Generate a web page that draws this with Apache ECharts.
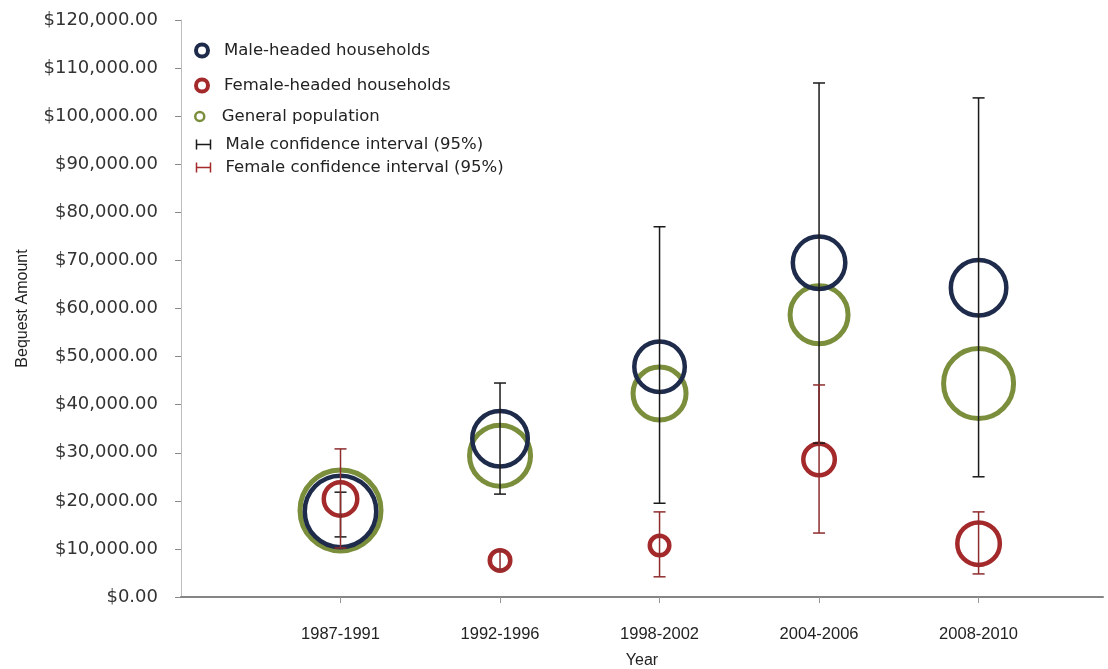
<!DOCTYPE html>
<html>
<head>
<meta charset="utf-8">
<script src="https://cdn.jsdelivr.net/npm/echarts@6/dist/echarts.min.js"></script>
<style>
  html, body { margin: 0; padding: 0; background: #fff; }
  #main { width: 1108px; height: 669px; }
</style>
</head>
<body>
<div id="main"></div>
<script>
var periods = ['1987-1991', '1992-1996', '1998-2002', '2004-2006', '2008-2010'];

// mean bequest per group
var maleMean = [17800, 32900, 47900, 69500, 64300];
var femaleMean = [20400, 7600, 10700, 28600, 11100];
var generalMean = [18000, 29400, 42300, 58700, 44400];

// bubble weights (relative sample size)
var maleBubble = [76, 60, 55, 57, 60];
var femaleBubble = [38, 25, 24, 36, 47];
var generalBubble = [86, 66, 58, 63, 75];

// 95% confidence intervals [low, high]
var maleLow = [12500, 21400, 19500, 32000, 25000];
var maleHigh = [21800, 44500, 77000, 106900, 103800];
var femaleLow = [10200, 5600, 4200, 13300, 4800];
var femaleHigh = [30800, 9600, 17700, 44100, 17700];

var yTicks = [0, 120000, 10000];

var NAVY = '#1e2b4b';
var RED = '#a3292b';
var GREEN = '#7a8e3c';

function bubbles(mean, size) {
  return mean.map(function (v, i) { return [i + 1, v, size[i]]; });
}
function intervals(lo, hi) {
  return lo.map(function (v, i) { return [i + 1, v, hi[i]]; });
}

function errorBar(color) {
  return function (params, api) {
    var x = api.value(0);
    var top = api.coord([x, api.value(2)]);
    var bot = api.coord([x, api.value(1)]);
    var w = 6;
    var style = { stroke: color, lineWidth: 1.5 };
    return {
      type: 'group',
      children: [
        { type: 'line', shape: { x1: top[0], y1: top[1], x2: bot[0], y2: bot[1] }, style: style },
        { type: 'line', shape: { x1: top[0] - w, y1: top[1], x2: top[0] + w, y2: top[1] }, style: style },
        { type: 'line', shape: { x1: bot[0] - w, y1: bot[1], x2: bot[0] + w, y2: bot[1] }, style: style }
      ]
    };
  };
}

function ring(border) {
  return function (val) { return val[2] - border; };
}

var legendText = { fontFamily: 'DejaVu Sans', fontSize: 16.5, color: '#222', padding: [0, 0, 0, 3] };
var hIcon = 'path://M0,0L0,10M0,5L14,5M14,0L14,10';

var chart = echarts.init(document.getElementById('main'));
var option = {
  animation: false,
  backgroundColor: '#fff',
  grid: { left: 181, top: 20, right: 5, bottom: 72, containLabel: false, outerBoundsMode: 'none' },
  legend: [
    { left: 189, top: 37, itemWidth: 28, itemHeight: 12, textStyle: legendText,
      data: [{ name: 'Male-headed households', icon: 'circle', itemStyle: { color: '#fff', borderColor: NAVY, borderWidth: 4 } }] },
    { left: 189, top: 72, itemWidth: 28, itemHeight: 12, textStyle: legendText,
      data: [{ name: 'Female-headed households', icon: 'circle', itemStyle: { color: '#fff', borderColor: RED, borderWidth: 4 } }] },
    { left: 189, top: 103, itemWidth: 28, itemHeight: 9, textStyle: legendText,
      data: [{ name: 'General population', icon: 'circle', itemStyle: { color: '#fff', borderColor: GREEN, borderWidth: 2.5 } }] },
    { left: 189, top: 131, itemWidth: 28, itemHeight: 10, textStyle: legendText,
      data: [{ name: 'Male confidence interval (95%)', icon: hIcon, itemStyle: { color: 'none', borderColor: '#1a1a1a', borderWidth: 1.5 } }] },
    { left: 189, top: 154, itemWidth: 28, itemHeight: 10, textStyle: legendText,
      data: [{ name: 'Female confidence interval (95%)', icon: hIcon, itemStyle: { color: 'none', borderColor: RED, borderWidth: 1.5 } }] }
  ],
  xAxis: {
    type: 'value',
    min: 0,
    max: 5.78,
    name: 'Year',
    nameLocation: 'middle',
    nameGap: 56,
    nameTextStyle: { fontFamily: 'Liberation Sans', fontSize: 16, color: '#222' },
    splitLine: { show: false },
    axisLine: { lineStyle: { color: '#858585', width: 2 } },
    axisTick: { customValues: [1, 2, 3, 4, 5], length: 6, lineStyle: { color: '#999' } },
    axisLabel: {
      customValues: [1, 2, 3, 4, 5],
      margin: 29,
      fontFamily: 'Liberation Sans',
      fontSize: 16.5,
      color: '#222',
      formatter: function (v) { return periods[Math.round(v) - 1] || ''; }
    }
  },
  yAxis: {
    type: 'value',
    min: yTicks[0],
    max: yTicks[1],
    interval: yTicks[2],
    name: 'Bequest Amount',
    nameLocation: 'middle',
    nameGap: 150,
    nameTextStyle: { fontFamily: 'Liberation Sans', fontSize: 16, color: '#222' },
    splitLine: { show: false },
    axisLine: { show: true, lineStyle: { color: '#bdbdbd', width: 1 } },
    axisTick: { show: true, length: 6, lineStyle: { color: '#888' } },
    axisLabel: {
      margin: 23,
      fontFamily: 'DejaVu Sans',
      fontSize: 18,
      color: '#333',
      formatter: function (v) {
        return '$' + v.toLocaleString('en-US', { minimumFractionDigits: 2, maximumFractionDigits: 2 });
      }
    }
  },
  series: [
    {
      name: 'General population',
      type: 'scatter',
      symbol: 'circle',
      symbolSize: ring(5),
      itemStyle: { color: 'rgba(0,0,0,0)', borderColor: GREEN, borderWidth: 5, opacity: 1 },
      data: bubbles(generalMean, generalBubble),
      z: 2
    },
    {
      name: 'Male-headed households',
      type: 'scatter',
      symbol: 'circle',
      symbolSize: ring(4.5),
      itemStyle: { color: 'rgba(0,0,0,0)', borderColor: NAVY, borderWidth: 4.5, opacity: 1 },
      data: bubbles(maleMean, maleBubble),
      z: 3
    },
    {
      name: 'Female-headed households',
      type: 'scatter',
      symbol: 'circle',
      symbolSize: ring(4.5),
      itemStyle: { color: 'rgba(0,0,0,0)', borderColor: RED, borderWidth: 4.5, opacity: 1 },
      data: bubbles(femaleMean, femaleBubble),
      z: 4
    },
    {
      name: 'Male confidence interval (95%)',
      type: 'custom',
      renderItem: errorBar('#1a1a1a'),
      encode: { x: 0, y: [1, 2] },
      data: intervals(maleLow, maleHigh),
      z: 5
    },
    {
      name: 'Female confidence interval (95%)',
      type: 'custom',
      renderItem: errorBar('#8e2c2e'),
      encode: { x: 0, y: [1, 2] },
      data: intervals(femaleLow, femaleHigh),
      z: 6
    }
  ]
};
chart.setOption(option);
window.addEventListener('resize', function () { chart.resize(); });
</script>
</body>
</html>
